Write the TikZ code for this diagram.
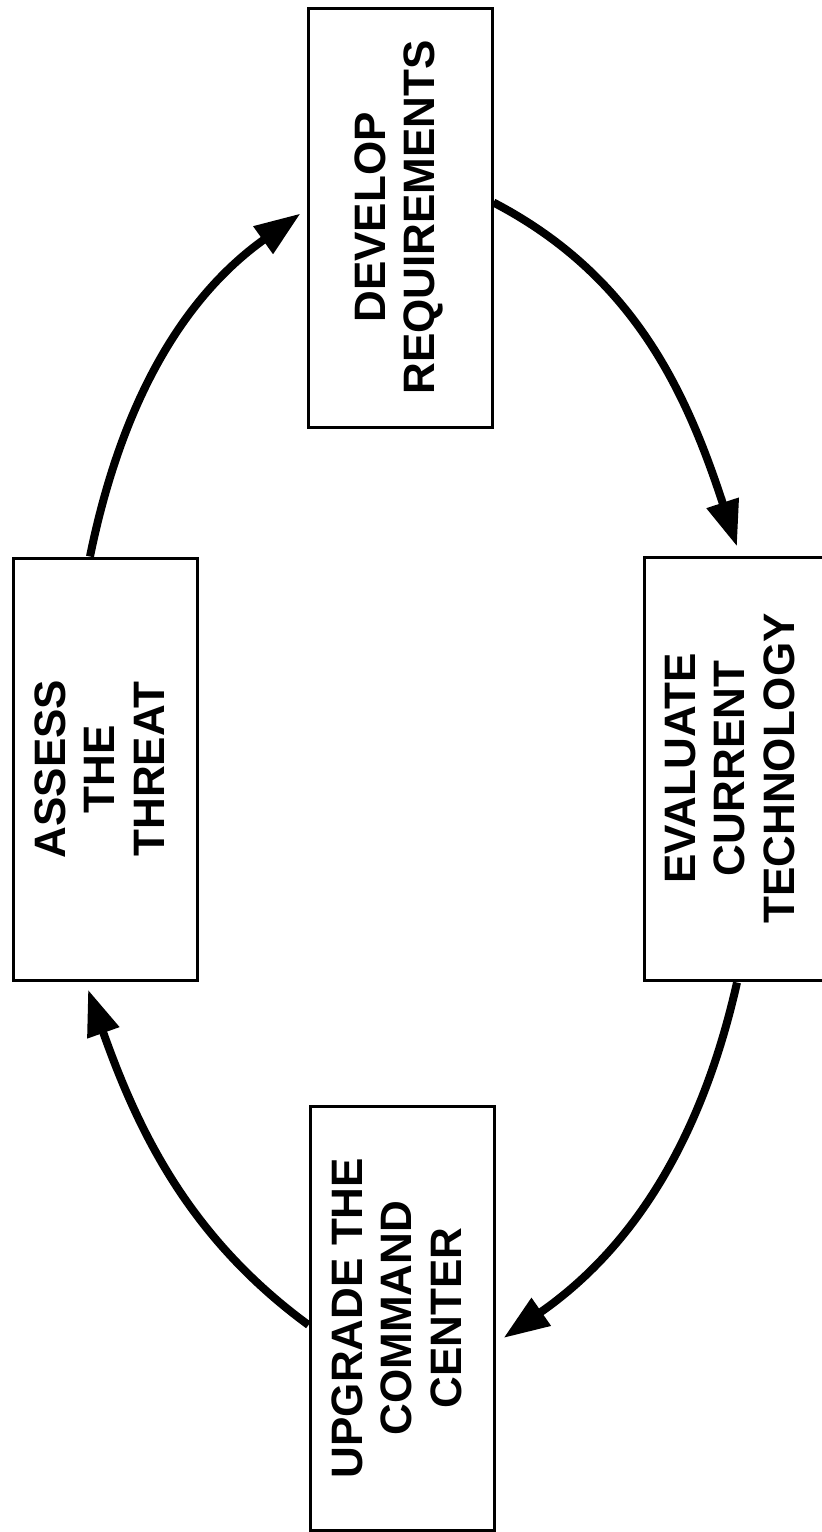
\documentclass[tikz,border=0pt]{standalone}
\usepackage{fontspec}
\setmainfont{Liberation Sans}
\usepackage{graphicx}
\usetikzlibrary{arrows.meta}
\newcommand{\boxlabel}[1]{\rotatebox{90}{\begin{tabular}{@{}c@{}}#1\end{tabular}}}

\begin{document}
\begin{tikzpicture}[x=0.5pt, y=-0.5pt,
	stagebox/.style={draw=black, line width=1.5pt, inner sep=0pt, font=\fontsize{22}{24.8}\selectfont\bfseries},
	cycle/.style={line width=4pt, -{Triangle[length=23pt, width=16pt]}}]
			\useasboundingbox (0,0) rectangle (822,1532);
			% the four stages
			\node[stagebox, minimum width=92pt, minimum height=209.5pt](dev) at (400,217.5){\boxlabel{DEVELOP\\REQUIREMENTS}};
			\node[stagebox, minimum width=92pt, minimum height=211pt](as) at (105,769){\boxlabel{ASSESS\\THE\\THREAT}};
			\node[stagebox, minimum width=91pt, minimum height=211.5pt](ev) at (735,768.5){\boxlabel{EVALUATE\\CURRENT\\TECHNOLOGY}};
			\node[stagebox, minimum width=92pt, minimum height=212pt](upg) at (402,1318){\boxlabel{UPGRADE THE\\COMMAND\\CENTER}};
			% the cycle
			\draw[cycle] ([shift={(-15,0)}]as.north) .. controls +(30,-147) and +(-122,87) .. ([shift={(-6,-4)}]dev.west);
			\draw[cycle] ([shift={(0,-15)}]dev.east) .. controls +(142,74) and +(-50,-152) .. ([shift={(2,-9)}]ev.north);
			\draw[cycle] ([shift={(2,1)}]ev.south) .. controls +(-35,155) and +(131,-91) .. ([shift={(8,20)}]upg.east);
			\draw[cycle] ([shift={(0,7)}]upg.west) .. controls +(-120,-88) and +(50,141) .. ([shift={(-17,8)}]as.south);
\end{tikzpicture}
\end{document}
